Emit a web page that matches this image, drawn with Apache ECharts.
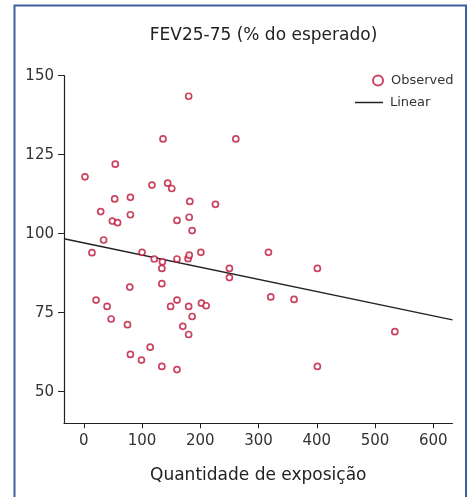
<!DOCTYPE html>
<html>
<head>
<meta charset="utf-8">
<script src="https://cdn.jsdelivr.net/npm/echarts@6/dist/echarts.min.js"></script>
<style>
  html, body { margin: 0; padding: 0; background: #fff; }
  #chart { width: 472px; height: 497px; }
</style>
</head>
<body>
<div id="chart"></div>
<script>
// observed points (exposure, FEV25-75 %)
const obsX = [2, 54, 180, 136, 261, 117, 144, 151, 53, 80, 182, 226, 29, 80, 181, 49, 58, 160, 186, 34,
              14, 100, 201, 121, 135, 160, 179, 181, 134, 250, 250, 317, 401, 134, 79, 21, 40, 47, 75, 160,
              149, 180, 186, 170, 180, 202, 210, 80, 99, 114, 134, 160, 321, 361, 534, 401];
const obsY = [118, 122, 143.5, 130, 130, 115.4, 116, 114.3, 111, 111.5, 110.2, 109.3, 107, 106, 105.2, 104, 103.5, 104.2, 101, 98,
              94, 94.1, 94.1, 92, 91.1, 92, 92.1, 93.2, 89, 89, 86.1, 94.1, 89, 84.2, 83.1, 79, 77, 73, 71.2, 79,
              77, 77, 73.8, 70.7, 68.1, 78, 77.2, 61.8, 60, 64.1, 58, 57, 80, 79.2, 69, 58];
// linear fit, read at both ends of the x axis
const fitX = [-34, 633];
const fitY = [98.4, 72.7];

const xTicks = [0, 100, 200, 300, 400, 500, 600];
const yTicks = [50, 75, 100, 125, 150];

const font = 'DejaVu Sans';
const red = '#bd1537';

let chart = echarts.init(document.getElementById('chart'));
chart.setOption({
    animation: false,
    title: {
        text: 'FEV25-75 (% do esperado)',
        left: 258.5,
        top: 22,
        textAlign: 'center',
        textStyle: { fontFamily: font, fontSize: 17, fontWeight: 'normal', color: '#222' },
    },
    legend: [
        {
            data: [{ name: 'Observed', icon: 'circle' }],
            left: 367,
            top: 69,
            itemWidth: 10,
            itemHeight: 10,
            textStyle: { fontFamily: font, fontSize: 13, color: '#333', padding: [0, 0, 0, 3] },
        },
        {
            data: [{ name: 'Linear', icon: 'rect' }],
            left: 350,
            top: 91,
            itemWidth: 28,
            itemHeight: 1.5,
            itemStyle: { color: '#222' },
            textStyle: { fontFamily: font, fontSize: 13, color: '#333', padding: [0, 0, 0, 2] },
        },
    ],
    graphic: [
        {
            type: 'rect',
            shape: { x: 14.5, y: 5.5, width: 451.5, height: 520 },
            style: { fill: 'none', stroke: '#3d5f9e', lineWidth: 2 },
            silent: true,
        },
    ],
    grid: { left: 64, right: 19.5, top: 75.7, bottom: 73.7, containLabel: false },
    xAxis: {
        type: 'value',
        min: -34,
        max: 633,
        name: 'Quantidade de exposição',
        nameLocation: 'middle',
        nameGap: 44,
        nameTextStyle: { fontFamily: font, fontSize: 17, color: '#222' },
        splitLine: { show: false },
        axisLine: { show: true, onZero: false, lineStyle: { color: '#222', width: 1.2 } },
        axisTick: { show: true, length: 5, customValues: xTicks, lineStyle: { color: '#222' } },
        axisLabel: { customValues: xTicks, margin: 10, fontFamily: font, fontSize: 15, color: '#333' },
    },
    yAxis: {
        type: 'value',
        min: 40,
        max: 150,
        splitLine: { show: false },
        axisLine: { show: true, onZero: false, lineStyle: { color: '#222', width: 1.2 } },
        axisTick: { show: true, length: 6, customValues: yTicks, lineStyle: { color: '#222' } },
        axisLabel: { customValues: yTicks, margin: 10, fontFamily: font, fontSize: 15, color: '#333' },
    },
    series: [
        {
            name: 'Linear',
            type: 'line',
            data: fitX.map((x, i) => [x, fitY[i]]),
            showSymbol: false,
            lineStyle: { color: '#222', width: 1.3 },
            itemStyle: { color: '#222' },
            z: 1,
        },
        {
            name: 'Observed',
            type: 'scatter',
            data: obsX.map((x, i) => [x, obsY[i]]),
            symbol: 'circle',
            symbolSize: 6,
            itemStyle: { color: '#fff', borderColor: red, borderWidth: 1.7 },
            z: 2,
        },
    ],
});
</script>
</body>
</html>
